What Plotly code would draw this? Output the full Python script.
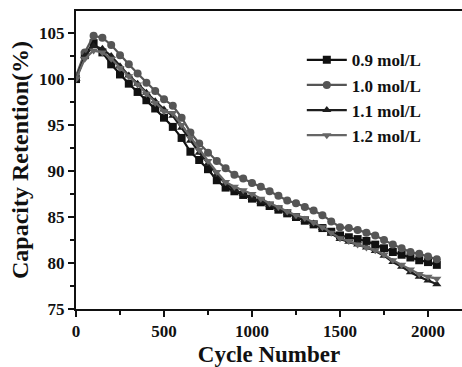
import plotly.graph_objects as go

cycles = list(range(0, 2051, 50))

s09 = [100.0, 102.6, 103.9, 102.9, 101.6, 100.5, 99.5, 98.6, 97.7, 96.8, 95.8, 94.8, 93.6, 92.1, 91.2, 90.2, 89.0, 88.2, 87.8, 87.4, 87.0,
       86.6, 86.2, 85.8, 85.4, 85.0, 84.6, 84.2, 83.8, 83.4, 83.0, 82.8, 82.6, 82.4, 82.0, 81.6, 81.2, 80.9, 80.6, 80.3, 80.1, 79.8]
s10 = [100.3, 102.9, 104.7, 104.5, 103.7, 102.6, 101.6, 100.6, 99.6, 98.7, 97.8, 97.1, 95.8, 94.2, 93.0, 92.0, 91.1, 90.3, 89.6, 89.2, 88.7,
       88.3, 87.8, 87.3, 86.8, 86.5, 86.1, 85.7, 85.2, 84.5, 83.9, 83.8, 83.6, 83.3, 83.0, 82.5, 82.0, 81.6, 81.2, 81.0, 80.7, 80.4]
s11 = [100.0, 102.5, 103.6, 103.3, 102.5, 101.4, 100.4, 99.5, 98.5, 97.6, 96.7, 96.0, 94.7, 93.3, 92.0, 90.8, 89.6, 88.6, 88.0, 87.5, 87.1,
       86.7, 86.3, 85.9, 85.4, 85.0, 84.7, 84.3, 83.8, 83.2, 82.6, 82.3, 82.0, 81.7, 81.3, 80.8, 80.1, 79.6, 79.0, 78.5, 78.1, 77.7]
s12 = [100.0, 102.2, 103.1, 102.9, 102.2, 101.2, 100.3, 99.4, 98.4, 97.4, 96.5, 96.3, 95.0, 93.6, 92.3, 91.1, 89.9, 88.8, 88.3, 87.9, 87.5,
       87.0, 86.5, 86.1, 85.6, 85.2, 84.9, 84.4, 83.9, 83.3, 82.7, 82.4, 82.0, 81.7, 81.4, 80.9, 80.3, 79.8, 79.3, 78.8, 78.5, 78.3]

names = ["0.9 mol/L", "1.0 mol/L", "1.1 mol/L", "1.2 mol/L"]
series = [s09, s10, s11, s12]
colors = ["#111111", "#555555", "#1e1e1e", "#666666"]
symbols = ["square", "circle", "triangle-up", "triangle-down"]

fig = go.Figure()
for n, s, c, sym in zip(names, series, colors, symbols):
    fig.add_trace(go.Scatter(x=cycles, y=s, name=n, mode="lines+markers",
                             line=dict(color=c, width=2.2),
                             marker=dict(symbol=sym, size=8, color=c)))

font_family = "Liberation Serif, Times New Roman, serif"
fig.update_layout(
    width=462, height=367,
    margin=dict(l=76, r=0, t=11, b=58),
    paper_bgcolor="white", plot_bgcolor="white",
    font=dict(family=font_family, color="#111111"),
    showlegend=True,
    legend=dict(x=0.585, y=0.895, xanchor="left", yanchor="top",
                font=dict(size=17, family=font_family, color="#111111", weight="bold"),
                bgcolor="rgba(0,0,0,0)", itemwidth=40, tracegroupgap=0),
    xaxis=dict(range=[0, 2193], tickvals=[0, 500, 1000, 1500, 2000],
               ticks="outside", ticklen=6, tickwidth=2, tickcolor="#111",
               showline=True, linewidth=2, linecolor="#111", mirror=True,
               showgrid=False, zeroline=False,
               tickfont=dict(size=17, family=font_family, weight="bold"),
               minor=dict(dtick=250, ticks="outside", ticklen=4, tickwidth=2, tickcolor="#111"),
               title=dict(text="Cycle Number", font=dict(size=23, family=font_family, weight="bold"), standoff=10)),
    yaxis=dict(range=[75, 107.4], tickvals=[75, 80, 85, 90, 95, 100, 105],
               ticks="outside", ticklen=6, tickwidth=2, tickcolor="#111",
               showline=True, linewidth=2, linecolor="#111", mirror=False,
               showgrid=False, zeroline=False,
               tickfont=dict(size=17, family=font_family, weight="bold"),
               minor=dict(dtick=2.5, ticks="outside", ticklen=4, tickwidth=2, tickcolor="#111"),
               title=dict(text="Capacity Retention(%)", font=dict(size=24, family=font_family, weight="bold"), standoff=4)),
)

fig.write_html("out.html")
